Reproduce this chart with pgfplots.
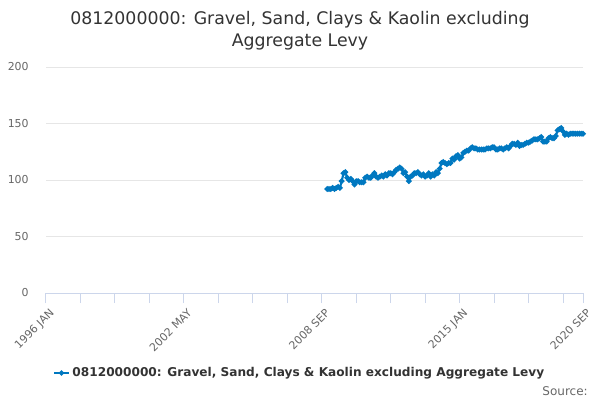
\documentclass[border=0pt]{standalone}
\usepackage{pgfplots}
\pgfplotsset{compat=1.18}
\usepackage{fontspec}
\setmainfont{DejaVu Sans}
\definecolor{series}{RGB}{0,120,192}
\definecolor{axisblue}{RGB}{204,214,235}
\definecolor{gridgray}{RGB}{230,230,230}
\definecolor{ticktext}{RGB}{102,102,102}
\definecolor{titletext}{RGB}{51,51,51}
\begin{document}
\begin{tikzpicture}
\path[use as bounding box] (0,0) rectangle (450pt,300pt);
\begin{axis}[
  at={(34.5pt,80.25pt)}, anchor=south west,
  scale only axis, width=402.75pt, height=169.5pt,
  xmin=0, xmax=296, ymin=0, ymax=200,
  separate axis lines,
  axis x line*=bottom, axis y line*=left,
  x axis line style={draw=axisblue, line width=0.75pt},
  y axis line style={draw=none},
  xtick={0,76,152,228,296},
  xticklabels={1996 JAN,2002 MAY,2008 SEP,2015 JAN,2020 SEP},
  extra x ticks={19,38,57,95,114,133,171,190,209,247,266,285},
  extra x tick labels={},
  extra x tick style={grid=none},
  x tick style={draw=axisblue, line width=0.75pt},
  major tick length=7.5pt,
  tick align=outside,
  xticklabel style={rotate=45, anchor=north east, font=\fontsize{8.2}{10}\selectfont, text=ticktext, inner sep=1pt, yshift=-3pt},
  ytick={0,50,100,150,200},
  y tick style={draw=none},
  yticklabel style={font=\fontsize{8.2}{10}\selectfont, text=ticktext, /pgf/number format/assume math mode=true, xshift=-2pt},
  ymajorgrids, grid style={draw=gridgray, line width=0.75pt},
  title={0812000000: Gravel, Sand, Clays \& Kaolin excluding\\Aggregate Levy},
  title style={at={(rel axis cs:0.473,1)}, anchor=center, yshift=21pt, align=center, font=\fontsize{13}{16.5}\selectfont, text=titletext},
  legend style={at={(rel axis cs:0.473,-0.354)}, anchor=center, draw=none, font=\bfseries\fontsize{9.1}{11}\selectfont, text=titletext, inner sep=0pt},
  legend cell align=left,
  legend image code/.code={
    \draw[#1, line width=1.5pt] (0pt,0pt) -- (11pt,0pt);
    \draw[#1, mark=*, mark size=1.1pt] plot coordinates {(5.5pt,0pt)};
  },
  clip=false,
]
\addplot[color=series, line width=1.6pt, mark=*, mark size=1.2pt, mark options={solid}] coordinates {
(155,92)(156,92)(157,92)(158,93)(159,92)(160,93)(161,94)(162,93)(163,99)(164,106)
(165,107)(166,102)(167,100)(168,101)(169,99)(170,96)(171,99)(172,99)(173,98)(174,98)
(175,98)(176,102)(177,103)(178,102)(179,102)(180,104)(181,106)(182,103)(183,102)(184,103)
(185,104)(186,103)(187,105)(188,104)(189,106)(190,106)(191,105)(192,107)(193,109)(194,110)
(195,111)(196,110)(197,106)(198,107)(199,103)(200,99)(201,103)(202,104)(203,106)(204,106)
(205,107)(206,105)(207,104)(208,105)(209,103)(210,104)(211,106)(212,103)(213,105)(214,104)
(215,107)(216,106)(217,110)(218,115)(219,116)(220,115)(221,114)(222,115)(223,115)(224,119)
(225,118)(226,121)(227,122)(228,119)(229,120)(230,124)(231,125)(232,126)(233,126)(234,128)
(235,129)(236,128)(237,128)(238,127)(239,127)(240,127)(241,127)(242,127)(243,128)(244,128)
(245,128)(246,129)(247,129)(248,127)(249,127)(250,128)(251,128)(252,127)(253,128)(254,129)
(255,128)(256,130)(257,132)(258,132)(259,131)(260,133)(261,130)(262,131)(263,131)(264,132)
(265,133)(266,133)(267,134)(268,135)(269,136)(270,136)(271,136)(272,137)(273,138)(274,134)
(275,134)(276,134)(277,137)(278,138)(279,137)(280,137)(281,139)(282,144)(283,145)(284,146)
(285,143)(286,140)(287,141)(288,140)(289,141)(290,141)(291,141)(292,141)(293,141)(294,141)
(295,141)(296,141)
};
\addlegendentry{0812000000: Gravel, Sand, Clays \& Kaolin excluding Aggregate Levy}
\end{axis}
\node[anchor=south east, font=\fontsize{9}{11}\selectfont, text=ticktext, inner sep=0pt] at (441pt,3pt) {Source:};
\end{tikzpicture}
\end{document}
